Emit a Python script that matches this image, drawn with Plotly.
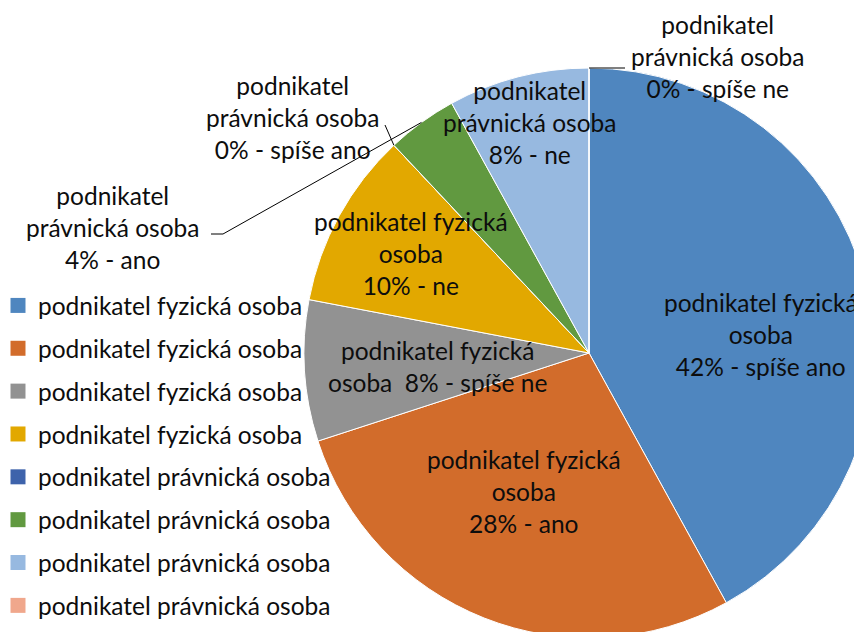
import math
import plotly.graph_objects as go

# Data
categories = ["podnikatel fyzická osoba"] * 4 + ["podnikatel právnická osoba"] * 4
answers = ["spíše ano", "ano", "spíše ne", "ne", "spíše ano", "ano", "ne", "spíše ne"]
values = [42, 28, 8, 10, 0, 4, 8, 0]
colors = ["#4F86BF", "#D26C2B", "#929292", "#E2A800",
          "#3E63AB", "#619940", "#97B9E0", "#F0A78C"]

# Figure geometry. The page body adds an 8px margin, so the figure is a bit
# larger than the window and the pie runs off the right / bottom like the original.
W, H = 880, 645
OFF = 8
CX, CY, R = 589, 353, 285   # pie centre / radius in window pixels
FONT = "Lato"
FS = 24.5

# Label centres (window pixels) and line-break layout of each label
label_pos = [(761, 334), (524, 491), (437, 366), (411, 254),
             (292, 117), (112, 228), (529, 123), (717, 57)]
label_fmt = ["{c1}<br>{c2}<br>{p}% - {a}", "{c1}<br>{c2}<br>{p}% - {a}",
             "{c1}<br>{c2}  {p}% - {a}", "{c1}<br>{c2}<br>{p}% - {a}",
             "{c1}<br>{c2}<br>{p}% - {a}", "{c1}<br>{c2}<br>{p}% - {a}",
             "{c1}<br>{c2}<br>{p}% - {a}", "{c1}<br>{c2}<br>{p}% - {a}"]
# leader line targets for outside labels (index -> list of points)
leader_to = {4: [(385, 125)], 5: [(223, 234), (211, 234)], 7: [(625, None)]}


def px(x):
    return (x - OFF) / W


def py(y):
    return 1 - (y - OFF) / H


fig = go.Figure()

fig.add_trace(go.Pie(
    values=values,
    labels=[f"{c} {a}" for c, a in zip(categories, answers)],
    sort=False, direction="clockwise", rotation=0,
    marker=dict(colors=colors, line=dict(color="white", width=1)),
    textinfo="none", hoverinfo="skip", showlegend=False,
    domain=dict(x=[px(CX - R), px(CX + R)], y=[py(CY + R), py(CY - R)]),
))

# legend entries
for i, (c, col) in enumerate(zip(categories, colors)):
    fig.add_trace(go.Scatter(
        x=[None], y=[None], mode="markers", name=c, legendgroup=str(i),
        marker=dict(symbol="square", size=15, color=col),
    ))

total = sum(values)
cum = 0
annotations = []
shapes = []
for i, v in enumerate(values):
    pct = round(v / total * 100)
    words = categories[i].split(" ")
    if "právnická" in categories[i]:
        c1, c2 = words[0], " ".join(words[1:])
    else:
        c1, c2 = " ".join(words[:2]), words[2]
    lx, ly = label_pos[i]
    annotations.append(dict(
        x=px(lx), y=py(ly), xref="paper", yref="paper",
        text=label_fmt[i].format(c1=c1, c2=c2, p=pct, a=answers[i]),
        showarrow=False, xanchor="center", yanchor="middle",
        font=dict(family=FONT, size=FS, color="#0D0D0D"),
    ))
    ang = math.radians((cum + v / 2) / total * 360)
    cum += v
    if i in leader_to:
        sx, sy = CX + R * math.sin(ang), CY - R * math.cos(ang)
        pts = [(sx, sy)] + [(x, sy if y is None else y) for x, y in leader_to[i]]
        for (x0, y0), (x1, y1) in zip(pts[:-1], pts[1:]):
            shapes.append(dict(type="line", xref="paper", yref="paper",
                               x0=px(x0), y0=py(y0), x1=px(x1), y1=py(y1),
                               line=dict(color="black", width=1)))

fig.update_layout(
    width=W, height=H,
    margin=dict(l=0, r=0, t=0, b=0, autoexpand=False),
    paper_bgcolor="white", plot_bgcolor="rgba(0,0,0,0)",
    font=dict(family=FONT, size=FS, color="#0D0D0D"),
    xaxis=dict(visible=False), yaxis=dict(visible=False),
    legend=dict(x=px(-2), y=py(283), xanchor="left", yanchor="top",
                bgcolor="rgba(0,0,0,0)", tracegroupgap=8, itemclick=False,
                font=dict(family=FONT, size=FS, color="#0D0D0D")),
    annotations=annotations,
    shapes=shapes,
)

fig.write_html("out.html")
